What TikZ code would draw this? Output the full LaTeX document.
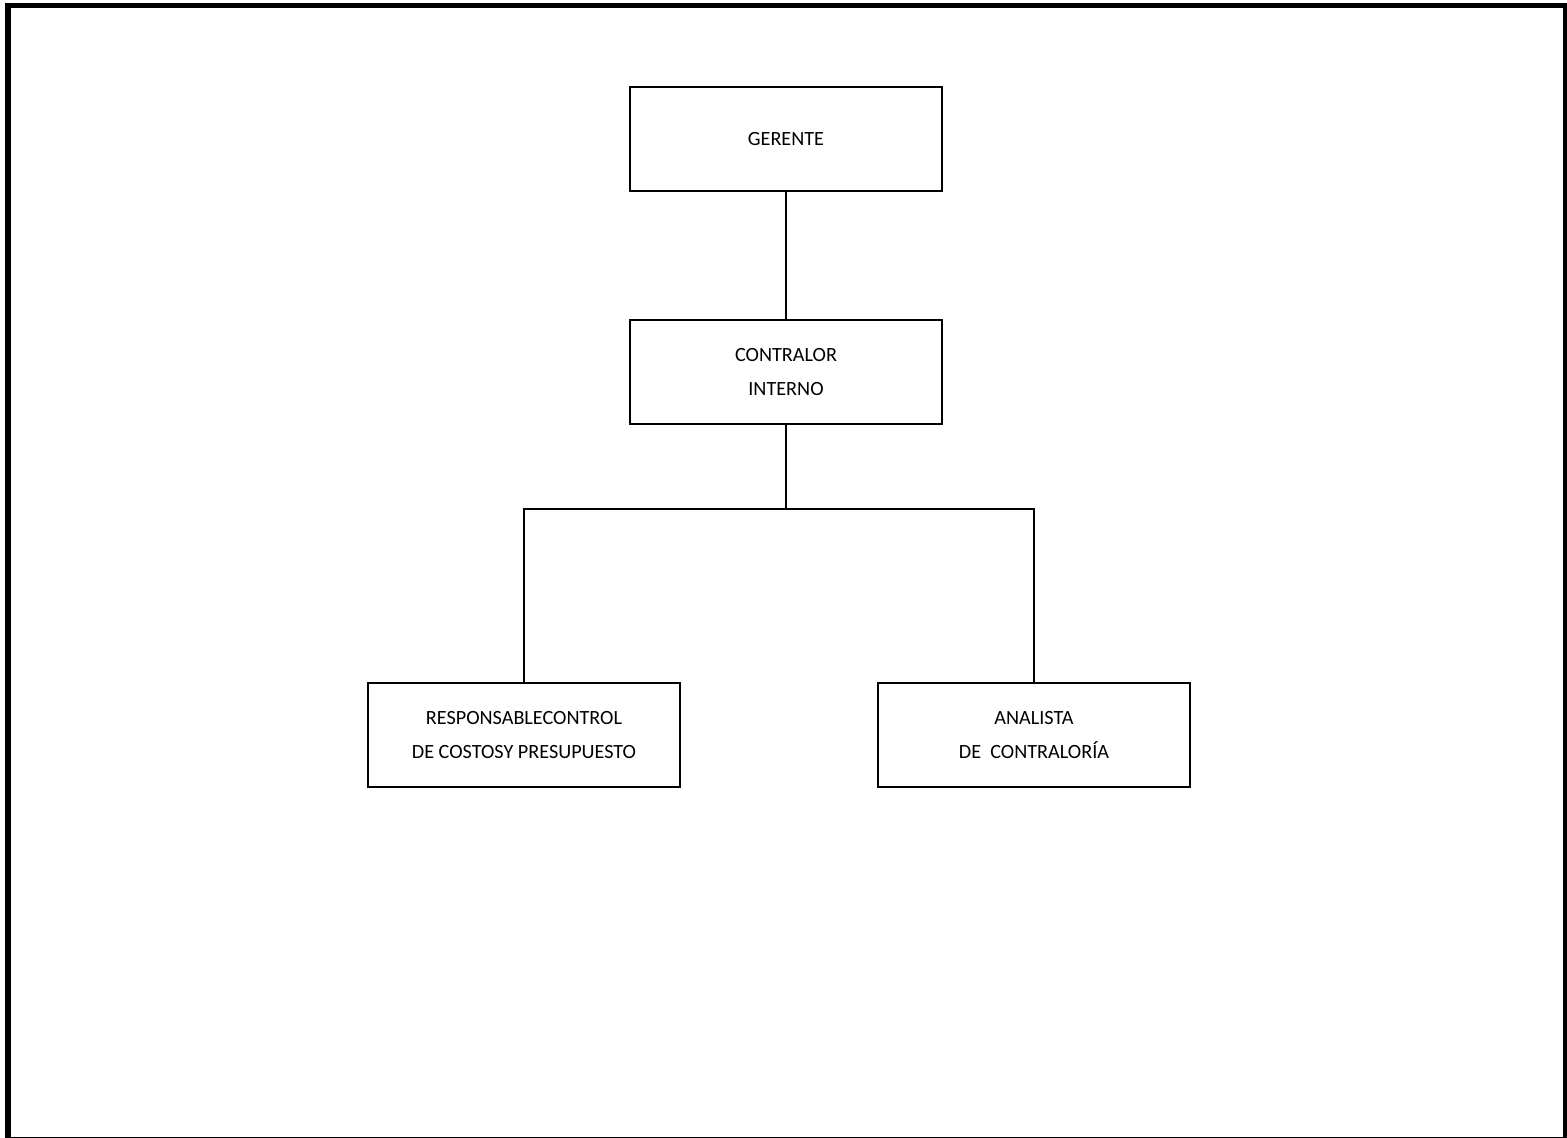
\documentclass[tikz,border=0pt]{standalone}
\usepackage{fontspec}
\setmainfont{Carlito}
\usepackage{tikz}
\usetikzlibrary{positioning}

\begin{document}
\begin{tikzpicture}[x=0.02cm,y=-0.02cm,
boxnode/.style={rectangle, draw, line width=1.15pt, minimum width=6.24cm, minimum height=2.08cm, align=center, font=\fontsize{11.5}{19}\selectfont},
edge/.style={line width=1.15pt},
frame/.style={draw, line width=3.4pt}
]
\useasboundingbox (0,0) rectangle (1567,1138);
\draw[frame] (8,5.5) rectangle (1566,1139.5);

%Nodes
\node[boxnode]        (gerente)     at (786,139)       {GERENTE};
\node[boxnode]        (contralor)   at (786,372)       {CONTRALOR\\INTERNO};
\node[boxnode]        (responsable) at (524,735)       {RESPONSABLECONTROL\\DE COSTOSY PRESUPUESTO};
\node[boxnode]        (analista)    at (1034,735)      {ANALISTA\\DE~~CONTRALORÍA};
\coordinate (split) at (786,509);

%Edges
\draw[edge] (gerente.south) -- (contralor.north);
\draw[edge] (contralor.south) -- (split);
\draw[edge] (split) -| (responsable.north);
\draw[edge] (split) -| (analista.north);

\end{tikzpicture}
\end{document}
